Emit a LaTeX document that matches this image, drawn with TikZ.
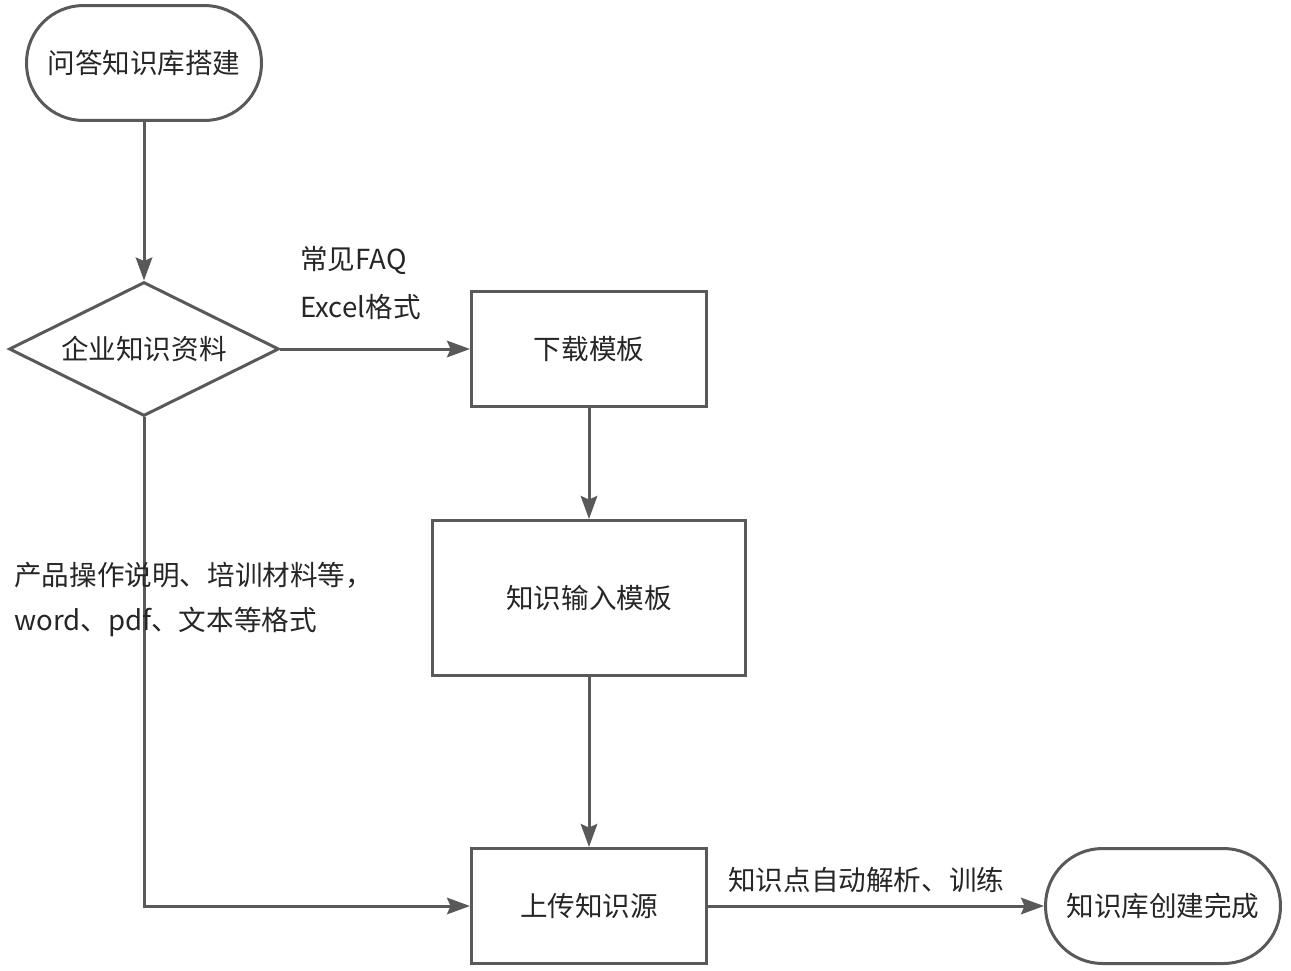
\documentclass[tikz,border=0pt]{standalone}
\usepackage{fontspec}
\setmainfont{Noto Sans CJK SC}
\usetikzlibrary{arrows.meta,shapes,positioning}
\definecolor{linegray}{HTML}{595959}
\definecolor{textgray}{HTML}{262626}
\tikzstyle{terminal}=[rectangle,rounded corners=1.14cm,draw=linegray,line width=0.06cm,minimum width=4.7cm,minimum height=2.3cm,inner sep=0pt,text=textgray]
\tikzstyle{decision}=[diamond,shape aspect=2,draw=linegray,line width=0.06cm,minimum width=5.4cm,minimum height=2.68cm,inner sep=0pt,text=textgray]
\tikzstyle{process}=[rectangle,draw=linegray,line width=0.06cm,inner sep=0pt,text=textgray]
\tikzstyle{edge} = [draw=linegray,line width=0.06cm,-{Stealth[length=0.46cm,width=0.33cm,inset=0.07cm]}]
\tikzstyle{note} = [anchor=west,inner sep=0pt,text=textgray]

\begin{document}
\begin{tikzpicture}[x=0.02cm,y=-0.02cm,font=\fontsize{15.7pt}{19pt}\selectfont]

\useasboundingbox (0,0) rectangle (1291,970);

%start / end
   \node[terminal] (start) at (144,63) {问答知识库搭建};
   \node[terminal] (done) at (1163,906) {知识库创建完成};

%decision
   \node[decision] (data) at (144,349) {企业知识资料};

%boxes
    \foreach \pos/\name/\label/\w/\h in {{(589,349)/download/下载模板/4.7/2.32}, {(589,598)/template/知识输入模板/6.28/3.1}, {(589,906)/upload/上传知识源/4.7/2.3}}
        \node[process,minimum width=\w cm,minimum height=\h cm] (\name) at \pos {\label};

% Connect nodes
	\foreach \source/ \dest in {start/data, download/template, template/upload}
		\path[edge] (\source.south) -- (\dest.north);
	\path[edge] (data.east) -- (download.west);
	\path[edge] (upload.east) -- (done.west);
	\path[edge] (data.south) |- (upload.west);

%labels
  \node[note] (faq) at (300,260) {常见FAQ};
  \node[note] (excel) at (300,307) {Excel格式};
  \node[note] (docs) at (14,575) {产品操作说明、培训材料等，};
  \node[note] (formats) at (14,622) {word、pdf、文本等格式};
  \node[note] (train) at (728,880) {知识点自动解析、训练};

\end{tikzpicture}
\end{document}
